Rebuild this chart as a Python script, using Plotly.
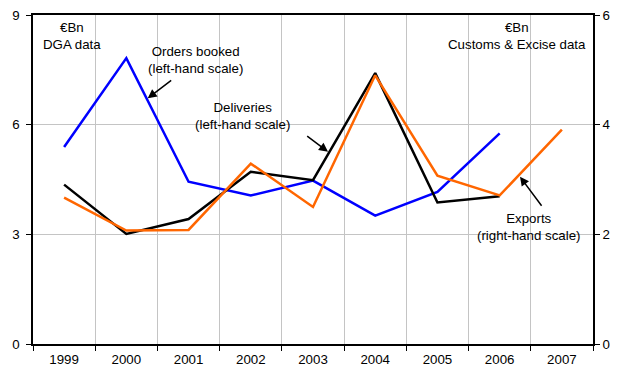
import plotly.graph_objects as go

# Annual values, € billion
years = ["1999", "2000", "2001", "2002", "2003", "2004", "2005", "2006", "2007"]
orders_booked = [5.39, 7.82, 4.44, 4.06, 4.47, 3.51, 4.16, 5.76]   # DGA, left scale
deliveries = [4.36, 3.01, 3.42, 4.71, 4.48, 7.41, 3.87, 4.04]      # DGA, left scale
exports = [2.67, 2.07, 2.08, 3.29, 2.50, 4.90, 3.07, 2.71, 3.91]  # Customs & Excise, right scale

left_ticks = [0, 3, 6, 9]
right_ticks = [0, 2, 4, 6]

FONT = "Liberation Sans, Arial, sans-serif"
FS = 13.3
GRID = "#C4C4C4"

fig = go.Figure()
fig.add_trace(go.Scatter(x=years[:len(orders_booked)], y=orders_booked, mode="lines",
                         line=dict(color="#0000FF", width=2.5), name="Orders booked"))
fig.add_trace(go.Scatter(x=years[:len(deliveries)], y=deliveries, mode="lines",
                         line=dict(color="#000000", width=2.5), name="Deliveries"))
fig.add_trace(go.Scatter(x=years, y=exports, mode="lines", yaxis="y2",
                         line=dict(color="#FF6600", width=2.5), name="Exports"))

fig.update_layout(
    width=621, height=371,
    margin=dict(l=33, r=28, t=15, b=27),
    paper_bgcolor="white", plot_bgcolor="white",
    showlegend=False,
    font=dict(family=FONT, size=FS, color="black"),
    xaxis=dict(type="category", categoryorder="array", categoryarray=years,
               range=[-0.5, len(years) - 0.5], tickson="boundaries",
               showgrid=True, gridcolor=GRID, gridwidth=1,
               ticks="outside", ticklen=5, tickcolor="black",
               showline=True, linecolor="black", linewidth=1.5, mirror=True,
               tickfont=dict(size=FS), automargin=False, ticklabelstandoff=2),
    yaxis=dict(range=[0, 9], tickvals=left_ticks, showgrid=True, gridcolor=GRID,
               zeroline=False, ticks="outside", ticklen=5, tickcolor="black",
               showline=True, linecolor="black", linewidth=1.5,
               tickfont=dict(size=FS), automargin=False, ticklabelstandoff=4),
    yaxis2=dict(range=[0, 6], tickvals=right_ticks, overlaying="y", side="right",
                showgrid=False, zeroline=False, ticks="outside", ticklen=5,
                tickcolor="black", showline=True, linecolor="black", linewidth=1.5,
                tickfont=dict(size=FS), automargin=False),
)

# plot area in pixels, used to place the notes
L, R, T, B = 33, 593, 15, 344


def px(xp):
    return (xp - L) / (R - L)


def py(yp):
    return (B - yp) / (B - T)


notes = [
    ("€Bn<br>DGA data", 72, 36),
    ("Orders booked<br>(left-hand scale)", 195, 60),
    ("Deliveries<br>(left-hand scale)", 242, 116),
    ("€Bn<br>Customs & Excise data", 517, 36),
    ("Exports<br>(right-hand scale)", 528, 227),
]
for txt, xp, yp in notes:
    fig.add_annotation(text=txt, xref="paper", yref="paper", x=px(xp), y=py(yp),
                       xanchor="center", yanchor="middle", showarrow=False,
                       align="center", font=dict(family=FONT, size=FS, color="black"))

# pointer arrows: (head x, head y, tail x, tail y) in pixels
pointers = [
    (147.7, 98.3, 172.7, 79.3),
    (328.0, 151.7, 305.7, 135.0),
    (520.0, 176.7, 542.7, 207.3),
]
for hx, hy, tx, ty in pointers:
    fig.add_annotation(text="", xref="paper", yref="paper", x=px(hx), y=py(hy),
                       ax=tx - hx, ay=ty - hy, showarrow=True, arrowhead=2,
                       arrowsize=1.2, arrowwidth=1.5, arrowcolor="black", standoff=0)

fig.write_html("out.html")
